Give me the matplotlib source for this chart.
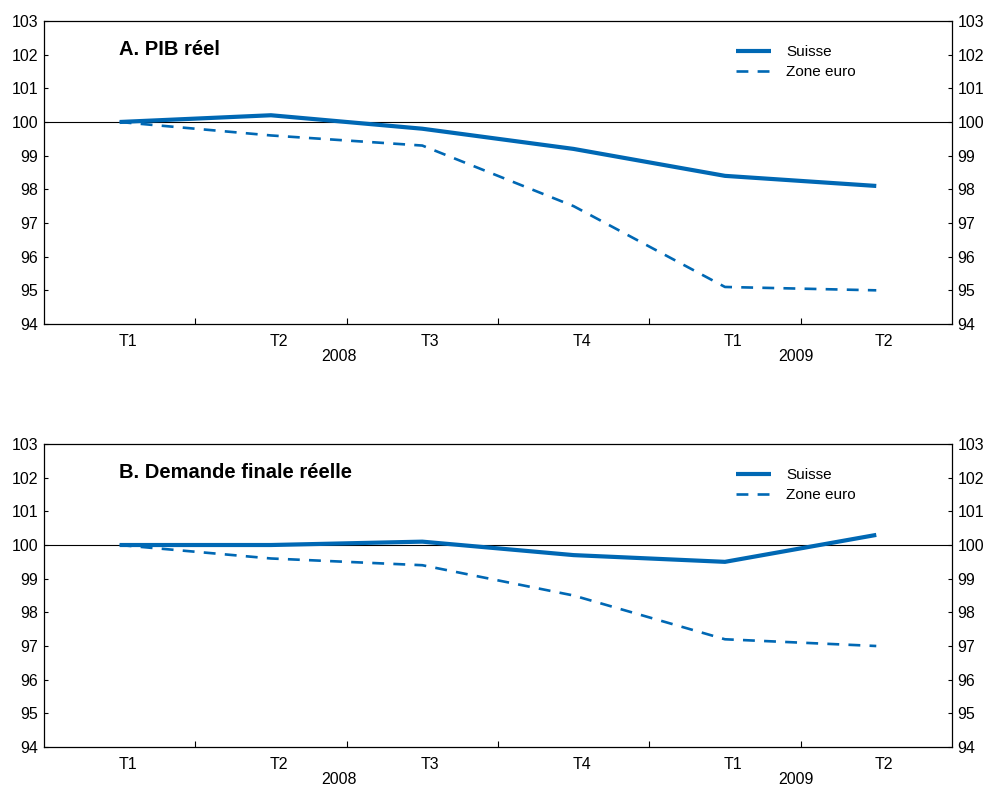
import matplotlib
matplotlib.use("Agg")
import matplotlib.pyplot as plt
import matplotlib.transforms as mtransforms

matplotlib.rc('font', family=['Liberation Sans', 'DejaVu Sans'], size=11.5)

quarters = ['T1', 'T2', 'T3', 'T4', 'T1', 'T2']
years = ['2008', '2009']
year_pos = [1.45, 4.47]

pib_suisse = [100.0, 100.2, 99.8, 99.2, 98.4, 98.1]
pib_euro = [100.0, 99.6, 99.3, 97.5, 95.1, 95.0]
dem_suisse = [100.0, 100.0, 100.1, 99.7, 99.5, 100.3]
dem_euro = [100.0, 99.6, 99.4, 98.5, 97.2, 97.0]

panels = [
    ('A. PIB réel', pib_suisse, pib_euro),
    ('B. Demande finale réelle', dem_suisse, dem_euro),
]

blue = '#0068b4'

fig = plt.figure(figsize=(9.88, 7.86), dpi=100)
rects = [[0.0445, 0.5878, 0.919, 0.3855], [0.0445, 0.0496, 0.919, 0.3855]]

for rect, (title, suisse, euro) in zip(rects, panels):
    ax = fig.add_axes(rect)
    x = range(len(quarters))
    ax.plot(x, suisse, color=blue, lw=3.0, label='Suisse', solid_capstyle='butt')
    ax.plot(x, euro, color=blue, lw=1.9, ls=(0, (4.5, 3.5)), label='Zone euro')
    ax.axhline(100, color='black', lw=0.8, zorder=1)

    ax.set_xlim(-0.5, 5.5)
    ax.set_ylim(94, 103)
    ax.set_yticks(range(94, 104))

    # boundaries between quarters as minor ticks, labels at the quarters
    ax.set_xticks([i + 0.5 for i in range(5)])
    ax.set_xticklabels([])
    ax.set_xticks(list(x), minor=True)
    ax.set_xticklabels(quarters, minor=True)
    ax.tick_params(axis='x', which='major', direction='in', length=4, width=0.8)
    ax.tick_params(axis='x', which='minor', length=0, pad=7)
    ax.tick_params(axis='y', direction='in', length=3, width=0.8,
                   left=True, right=True, labelleft=True, labelright=True, pad=4)

    # the quarter labels sit a little right of their points in the original
    shift = mtransforms.ScaledTranslation(8 / 100, 0, fig.dpi_scale_trans)
    for lab in ax.get_xticklabels(minor=True):
        lab.set_transform(lab.get_transform() + shift)

    for s in ax.spines.values():
        s.set_linewidth(0.9)

    for yr, pos in zip(years, year_pos):
        ax.text(pos, -0.083, yr, transform=ax.get_xaxis_transform(),
                ha='center', va='top', fontsize=11.5)

    ax.text(0.083, 0.905, title, transform=ax.transAxes, fontsize=14.5,
            fontweight='bold', va='center', ha='left')
    ax.legend(loc='upper left', bbox_to_anchor=(0.755, 0.94), frameon=False,
              fontsize=11, handlelength=2.3, handletextpad=1.0,
              labelspacing=0.4, borderaxespad=0)

fig.savefig('out.png', dpi=100)
plt.close(fig)
